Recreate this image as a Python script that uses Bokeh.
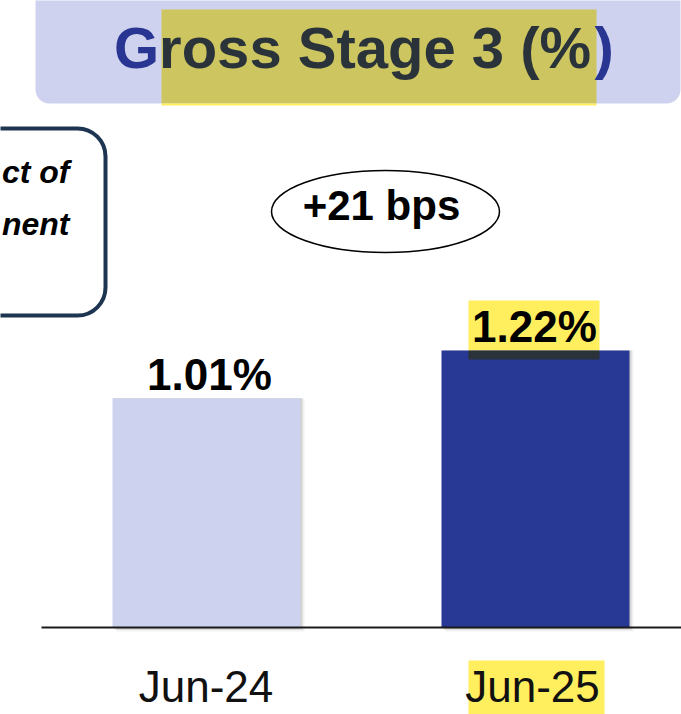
from bokeh.plotting import figure
from bokeh.models import Range1d, BoxAnnotation
from bokeh.core.properties import value
from bokeh.embed import file_html
from bokeh.resources import INLINE

# ---- data ----
categories = ["Jun-24", "Jun-25"]
values = [1.01, 1.22]
value_labels = ["1.01%", "1.22%"]
bar_colors = ["#CDD2EE", "#283895"]
change_label = "+21 bps"
title_parts = ["G", "ross Stage 3 (%", ")"]
side_note = ["ct of", "nent"]

# ---- layout helpers (page pixel -> plot coordinates) ----
BASE_PY = 627.0      # page y of the zero line
PX_PER_UNIT = 227.0  # pixels per 1 percentage point
BL = 0.36            # baseline correction (fraction of font size)


def v(py):
    return (BASE_PY - py) / PX_PER_UNIT


def tb(py, fs):
    # y for a text whose baseline should sit at page y `py`
    return v(py - BL * fs)


W, H = 681, 714
p = figure(width=W, height=H, output_backend="svg", toolbar_location=None,
           x_range=Range1d(0, W), y_range=Range1d(v(H), v(0)),
           min_border=0, outline_line_color=None)
p.axis.visible = False
p.grid.visible = False
p.background_fill_color = "white"

FONT = value("Liberation Sans")

# ---- title box ----
p.add_layout(BoxAnnotation(left=35, right=680, top=v(-20), bottom=v(103),
                           fill_color="#CED2EE", fill_alpha=1, line_color=None,
                           border_radius=14, level="underlay"))
p.quad(left=[161], right=[596], top=[v(9)], bottom=[v(103)], fill_color="#CDC560", line_color=None)
p.quad(left=[161], right=[596], top=[v(103)], bottom=[v(105)], fill_color="#FFEE5E", line_color=None)
TFS = 58
tx0 = 113.5
title_x = [tx0, tx0 + 0.778 * TFS, 594]
p.text(x=title_x, y=[tb(68, TFS)] * 3, text=title_parts,
       text_color=["#283593", "#2A333A", "#283593"], text_font=FONT,
       text_font_style="bold", text_font_size=f"{TFS}px",
       text_align="left", text_baseline="alphabetic")

# ---- side note box (cropped) ----
p.add_layout(BoxAnnotation(left=-60, right=105, top=v(128), bottom=v(315),
                           fill_color="white", fill_alpha=1, line_color="#1E3551",
                           line_alpha=1, line_width=4, border_radius=28, level="underlay"))
SFS = 32
p.text(x=[69, 69], y=[tb(183, SFS), tb(235, SFS)], text=side_note, text_color="black",
       text_font=FONT, text_font_style="bold italic", text_font_size=f"{SFS}px",
       text_align="right", text_baseline="alphabetic")

# ---- change bubble ----
p.ellipse(x=[385], y=[v(211)], width=[228], height=[82 / PX_PER_UNIT],
          fill_color="white", line_color="black", line_width=1.5)
p.text(x=[381], y=[tb(220, 42)], text=[change_label], text_color="black",
       text_font=FONT, text_font_style="bold", text_font_size="42px",
       text_align="center", text_baseline="alphabetic")

# ---- bars ----
xc = [206, 535]
bw = 188
for off, a in [(4, 0.05), (2.5, 0.07), (1.2, 0.08)]:
    p.vbar(x=[x + off for x in xc], width=bw, top=values, bottom=-off / PX_PER_UNIT,
           fill_color="black", fill_alpha=a, line_color=None)
p.vbar(x=xc, width=bw, top=values, bottom=0, fill_color=bar_colors, line_color=None)

# highlight behind 1.22% label
p.quad(left=[468], right=[599], top=[v(300)], bottom=[values[1]], fill_color="#FFEE5E", line_color=None)
p.quad(left=[468], right=[599], top=[values[1]], bottom=[v(359)], fill_color="#2A333A", line_color=None)

# value labels (baseline just above the bar top)
LFS = 44
p.text(x=[209, 534], y=[vv + (8 + BL * LFS) / PX_PER_UNIT for vv in values], text=value_labels,
       text_color="black", text_font=FONT, text_font_style="bold", text_font_size=f"{LFS}px",
       text_align="center", text_baseline="alphabetic")

# zero line
p.segment(x0=[41], y0=[0], x1=[690], y1=[0], line_color="#1a1a1a", line_width=2)

# category labels
p.quad(left=[468], right=[604], top=[v(660)], bottom=[v(720)], fill_color="#FFEE5E", line_color=None)
p.text(x=[205.5, 532], y=[tb(702, 44)] * 2, text=categories, text_color="#111111",
       text_font=FONT, text_font_size="44px", text_align="center", text_baseline="alphabetic")

open("out.html", "w").write(file_html(p, INLINE))
